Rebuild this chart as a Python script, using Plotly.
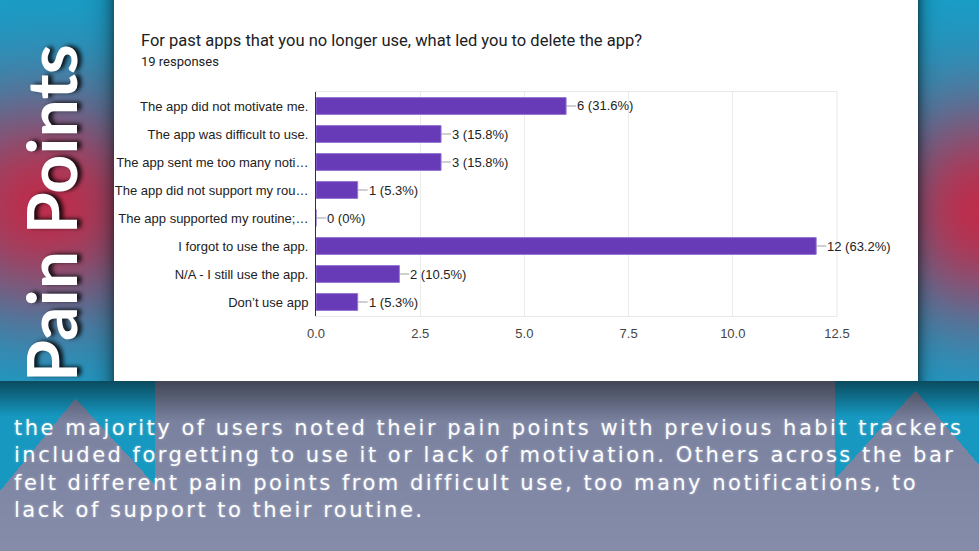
import zlib, struct, base64
import numpy as np
import plotly.graph_objects as go

# ---------------- data ----------------
categories = [
    "The app did not motivate me.",
    "The app was difficult to use.",
    "The app sent me too many noti…",
    "The app did not support my rou…",
    "The app supported my routine;…",
    "I forgot to use the app.",
    "N/A - I still use the app.",
    "Don’t use app",
]
counts = [6, 3, 3, 1, 0, 12, 2, 1]
total_responses = 19
x_ticks = [0, 2.5, 5, 7.5, 10, 12.5]
x_tick_labels = ["0.0", "2.5", "5.0", "7.5", "10.0", "12.5"]

title_text = "For past apps that you no longer use, what led you to delete the app?"
subtitle_text = f"{total_responses} responses"
side_title = "Pain Points"
caption_lines = [
    "the majority of users noted their pain points with previous habit trackers",
    "included forgetting to use it or lack of motivation. Others across the bar",
    "felt different pain points from difficult use, too many notifications, to",
    "lack of support to their routine.",
]

W, H = 979, 551

# ---------------- background picture ----------------
Y, X = np.mgrid[0:H, 0:W].astype(float)
cyan = np.array([18, 162, 204], float)
red = np.array([188, 46, 76], float)
wl = np.exp(-(((X - 45) / 150) ** 2 + ((Y - 205) / 120) ** 2))
wr = np.exp(-(((X - 979) / 105) ** 2 + ((Y - 210) / 120) ** 2))
w = np.clip(np.maximum(wl, wr), 0, 1)[..., None]
img = cyan * (1 - w) + red * w
dl = np.where(X < 114, np.exp(-(114 - X) / 9), 0)
dr = np.where(X >= 918, np.exp(-(X - 918) / 6), 0)
img *= (1 - 0.45 * dl - 0.45 * dr)[..., None]

t1 = np.clip((Y - 381) / 40, 0, 1)
t2 = np.clip((Y - 421) / 130, 0, 1)
dark = np.array([66, 70, 86], float)
mid = np.array([122, 130, 160], float)
low = np.array([134, 141, 170], float)
bottom = dark * (1 - t1[..., None]) + mid * t1[..., None]
bottom = bottom * (1 - t2[..., None]) + low * t2[..., None]

teal = np.array([22, 152, 192], float)
tshade = (0.5 + 0.5 * np.clip((Y - 381) / 35, 0, 1))[..., None]
fl = np.where(X < 75, 490 - (92 / 75) * X, 398 + (87 / 80) * (X - 75))
mask_l = (X < 155) & (Y < fl)
fr = np.where(X < 915, 478 - (88 / 80) * (X - 835), 390 + (75 / 64) * (X - 915))
mask_r = (X >= 835) & (Y < fr)
bottom = np.where((mask_l | mask_r)[..., None], teal * tshade, bottom)
img = np.where((Y >= 381)[..., None], bottom, img)
card = (X >= 114) & (X < 918) & (Y < 381)
img[card] = 255
img = np.clip(img, 0, 255).astype(np.uint8)


def png_uri(arr):
    h, w_ = arr.shape[:2]
    raw = b"".join(b"\x00" + arr[i].tobytes() for i in range(h))

    def chunk(t, d):
        c = struct.pack(">I", len(d)) + t + d
        return c + struct.pack(">I", zlib.crc32(t + d) & 0xFFFFFFFF)

    png = (b"\x89PNG\r\n\x1a\n"
           + chunk(b"IHDR", struct.pack(">IIBBBBB", w_, h, 8, 2, 0, 0, 0))
           + chunk(b"IDAT", zlib.compress(raw, 9))
           + chunk(b"IEND", b""))
    return "data:image/png;base64," + base64.b64encode(png).decode()


# ---------------- figure ----------------
fig = go.Figure(go.Bar(
    x=counts, y=categories, orientation="h",
    marker=dict(color="#673ab7", line=dict(color="#9173d3", width=1)),
    width=0.6, hoverinfo="skip",
))

annotations = []
for c, cat in zip(counts, categories):
    p = c / total_responses * 100
    lab = f"{c} ({p:.1f}%)" if c else "0 (0%)"
    annotations.append(dict(
        x=c, y=cat, xref="x", yref="y", text=lab, showarrow=True,
        arrowhead=0, arrowwidth=1, arrowcolor="#a0a0a0", ax=10, ay=0,
        xanchor="left", yanchor="middle", standoff=0, borderpad=0,
        font=dict(family="Liberation Sans, Arial", size=13, color="#222222"),
    ))

caption_html = "<br>".join(
    f"<span style='letter-spacing:2.5px'>{line}</span>" for line in caption_lines)

annotations += [
    dict(x=139 / W, y=1 - 40 / H, xref="paper", yref="paper", text=title_text,
         showarrow=False, xanchor="left", yanchor="middle",
         font=dict(family="Roboto", size=16.5, color="#202124")),
    dict(x=139 / W, y=1 - 61 / H, xref="paper", yref="paper", text=subtitle_text,
         showarrow=False, xanchor="left", yanchor="middle",
         font=dict(family="Roboto", size=13, color="#202124")),
    dict(x=50 / W, y=1 - 213 / H, xref="paper", yref="paper", text=side_title,
         showarrow=False, xanchor="center", yanchor="middle", textangle=-90,
         font=dict(family="Lato", size=68, weight=700, color="white",
                   shadow="1px 4px 4px rgba(0,0,0,0.85)")),
    dict(x=12 / W, y=1 - 469 / H, xref="paper", yref="paper",
         text=caption_html,
         showarrow=False, xanchor="left", yanchor="middle", align="left",
         font=dict(family="DejaVu Sans", size=21, color="white",
                   shadow="0px 0px 3px rgba(255,255,255,0.4)")),
]

fig.update_layout(
    template="none",
    width=W, height=H, margin=dict(l=0, r=0, t=0, b=0, pad=0, autoexpand=False),
    paper_bgcolor="white", plot_bgcolor="rgba(0,0,0,0)",
    showlegend=False, bargap=0.4,
    images=[dict(source=png_uri(img), xref="paper", yref="paper", x=0, y=1,
                 sizex=1, sizey=1, xanchor="left", yanchor="top",
                 sizing="stretch", layer="below")],
    xaxis=dict(domain=[316 / W, 837 / W], range=[0, 12.5], tickvals=x_ticks,
               ticktext=x_tick_labels, showgrid=True, gridcolor="#ebebeb",
               zeroline=False, showline=True, linecolor="#e8e8e8", mirror=True,
               ticks="", ticklabelstandoff=5, automargin=False,
               tickfont=dict(family="Liberation Sans, Arial", size=13, color="#444444"),
               fixedrange=True),
    yaxis=dict(domain=[(H - 316) / H, (H - 92) / H], autorange="reversed",
               categoryorder="array", categoryarray=categories,
               showline=True, linecolor="#333333", linewidth=1, ticks="",
               showgrid=False, ticklabelstandoff=4, automargin=False,
               tickfont=dict(family="Liberation Sans, Arial", size=13, color="#222222"),
               fixedrange=True),
    shapes=[dict(type="line", xref="x domain", yref="y domain", x0=1, x1=1, y0=0, y1=1,
                 line=dict(color="#e8e8e8", width=1), layer="below")],
    annotations=annotations,
)

fig.write_html("out.html")
